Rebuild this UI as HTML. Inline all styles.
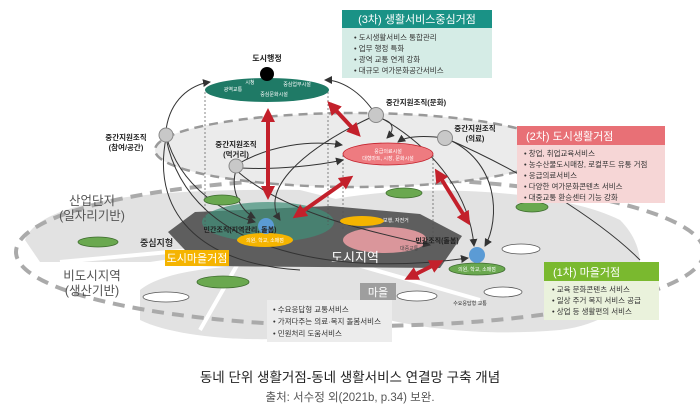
<!DOCTYPE html>
<html><head><meta charset="utf-8"><style>
body{margin:0;background:#fff;}
svg{display:block;font-family:"Liberation Sans","Noto Sans CJK KR",sans-serif;}
</style></head><body>
<svg width="700" height="416" viewBox="0 0 700 416" xmlns="http://www.w3.org/2000/svg">
<defs>
<marker id="ah" markerWidth="8" markerHeight="8" refX="7" refY="4" orient="auto" markerUnits="userSpaceOnUse"><path d="M0,0 L8,4 L0,8 z" fill="#333"/></marker>
<marker id="rh" markerWidth="14" markerHeight="14" refX="10" refY="7" orient="auto-start-reverse" markerUnits="userSpaceOnUse"><path d="M0,0 L14,7 L0,14 z" fill="#c3202b"/></marker>
</defs>
<path d="M25,240 C40,200 150,188 300,190 L340,200 L300,240 L150,262 L40,262 Z" fill="#e2e2e2"/>
<path d="M140,290 C170,265 260,262 340,268 L340,332 C280,345 180,340 140,320 Z" fill="#e2e2e2"/>
<path d="M330,200 C420,182 560,190 620,220 C660,260 640,320 560,330 C470,338 380,325 330,300 Z" fill="#e2e2e2"/>
<ellipse cx="360" cy="252" rx="344" ry="74" fill="none" stroke="#aaa" stroke-width="4" stroke-dasharray="12,8"/>
<path d="M60,262 L300,240 M200,330 L260,225 M340,260 L480,300" stroke="#fff" stroke-width="4" fill="none"/>
<path d="M168,232 L195,212 L330,206 L420,214 L462,236 L440,268 L200,266 Z" fill="#5e5e5e"/>
<ellipse cx="268" cy="222" rx="66" ry="20" fill="#3f8f78" opacity="0.7"/>
<ellipse cx="385" cy="240" rx="42" ry="13" fill="#f0a0a6" opacity="0.85"/>
<text x="355" y="262" font-size="13" fill="#fff" text-anchor="middle">도시지역</text>
<text x="383" y="222" font-size="5" fill="#fff">보행, 자전거</text>
<text x="400" y="250" font-size="5" fill="#444">대중교통</text>
<ellipse cx="355" cy="150" rx="200" ry="37" fill="#ebebeb" stroke="#999" stroke-width="2.5" stroke-dasharray="9,6"/>
<path d="M205,92 V225 M328,92 V225 M343,155 V230 M433,155 V240" stroke="#555" stroke-width="0.7" stroke-dasharray="2,2"/>
<g stroke="#333" stroke-width="1" fill="none">
<path d="M166,130 C170,100 190,85 210,82" marker-end="url(#ah)"/>
<path d="M376,115 C360,90 340,80 325,80" marker-end="url(#ah)"/>
<path d="M236,165 C270,145 310,140 342,145" marker-end="url(#ah)"/>
<path d="M240,168 C280,170 320,165 343,160" marker-end="url(#ah)"/>
<path d="M376,118 C395,120 395,130 387,138" marker-end="url(#ah)"/>
<path d="M445,138 C420,135 405,137 398,142" marker-end="url(#ah)"/>
<path d="M166,135 C180,190 230,215 255,222" marker-end="url(#ah)"/>
<path d="M166,138 C190,260 350,275 468,258" marker-end="url(#ah)"/>
<path d="M166,138 C150,220 210,265 300,270"/>
<path d="M376,115 C300,150 260,190 280,220" marker-end="url(#ah)"/>
<path d="M376,115 C440,150 470,200 474,246" marker-end="url(#ah)"/>
<path d="M445,138 C500,160 500,220 485,246" marker-end="url(#ah)"/>
<path d="M236,170 C230,190 240,210 255,218" marker-end="url(#ah)"/>
<path d="M236,170 C280,210 360,230 430,245" marker-end="url(#ah)"/>
<path d="M445,138 C520,170 600,220 640,260"/>
</g>
<g fill="#6aa84f" stroke="#3d6b2e" stroke-width="0.8">
<ellipse cx="98" cy="242" rx="20" ry="5"/><ellipse cx="222" cy="200" rx="18" ry="5"/>
<ellipse cx="404" cy="193" rx="18" ry="5"/><ellipse cx="532" cy="207" rx="16" ry="5"/>
<ellipse cx="223" cy="282" rx="26" ry="6"/>
</g>
<g fill="#fff" stroke="#555" stroke-width="0.8">
<ellipse cx="166" cy="297" rx="23" ry="5"/><ellipse cx="521" cy="249" rx="19" ry="5"/>
<ellipse cx="503" cy="292" rx="19" ry="5"/><ellipse cx="417" cy="296" rx="20" ry="5"/>
</g>
<text x="140" y="246" font-size="9" font-weight="bold" fill="#333">중심지형</text>
<ellipse cx="265" cy="240" rx="28" ry="7" fill="#f5b400"/>
<text x="265" y="242" font-size="5" fill="#fff" text-anchor="middle">의원, 학교, 소매점</text>
<ellipse cx="362" cy="221" rx="22" ry="5" fill="#f5b400"/>
<circle cx="266" cy="226" r="8" fill="#5b9bd5"/>
<text x="240" y="232" font-size="7" font-weight="bold" fill="#222" text-anchor="middle">민간조직(지역관리, 돌봄)</text>
<ellipse cx="477" cy="269" rx="28" ry="6" fill="#6aa84f" stroke="#3d6b2e" stroke-width="0.8"/>
<circle cx="477" cy="255" r="8" fill="#5b9bd5"/>
<text x="477" y="271" font-size="5" fill="#fff" text-anchor="middle">의원, 학교, 소매점</text>
<text x="437" y="243" font-size="7" font-weight="bold" fill="#222" text-anchor="middle">민간조직(돌봄)</text>
<text x="470" y="305" font-size="5" fill="#333" text-anchor="middle">수요응답형 교통</text>
<ellipse cx="267" cy="90" rx="62" ry="12" fill="#1f7a66"/>
<circle cx="267" cy="74" r="7" fill="#000"/>
<text x="267" y="61" font-size="8" font-weight="bold" fill="#222" text-anchor="middle">도시행정</text>
<text x="250" y="84" font-size="5" fill="#fff" text-anchor="middle">시청</text>
<text x="233" y="91" font-size="5" fill="#fff" text-anchor="middle">광역교통</text>
<text x="297" y="86" font-size="5" fill="#fff" text-anchor="middle">중심업무시설</text>
<text x="274" y="96" font-size="5" fill="#fff" text-anchor="middle">중심문화시설</text>
<ellipse cx="388" cy="154" rx="45" ry="11" fill="#ee7b80" stroke="#c3202b" stroke-width="0.8"/>
<text x="388" y="153" font-size="5" fill="#fff" text-anchor="middle">응급의료시설</text>
<text x="388" y="160" font-size="5" fill="#fff" text-anchor="middle">대형마트, 시장, 문화시설</text>
<g fill="#c8c8c8" stroke="#888"><circle cx="166" cy="135" r="7"/><circle cx="376" cy="115" r="7.5"/><circle cx="445" cy="138" r="7.5"/><circle cx="236" cy="166" r="7"/></g>
<g font-size="7.5" font-weight="bold" fill="#222" text-anchor="middle">
<text x="126" y="140">중간지원조직</text><text x="126" y="150">(참여/공간)</text>
<text x="236" y="147">중간지원조직</text><text x="236" y="157">(먹거리)</text>
<text x="416" y="105">중간지원조직(문화)</text>
<text x="475" y="131">중간지원조직</text><text x="475" y="141">(의료)</text>
</g>
<g stroke="#c3202b" stroke-width="4" fill="none">
<line x1="268" y1="196" x2="268" y2="112" marker-start="url(#rh)" marker-end="url(#rh)"/>
<line x1="330" y1="104" x2="358" y2="134" marker-start="url(#rh)" marker-end="url(#rh)"/>
<line x1="296" y1="216" x2="350" y2="178" marker-start="url(#rh)" marker-end="url(#rh)"/>
<line x1="437" y1="172" x2="468" y2="222" marker-start="url(#rh)" marker-end="url(#rh)"/>
<line x1="408" y1="278" x2="440" y2="262" marker-start="url(#rh)" marker-end="url(#rh)"/>
</g>
<g font-size="12.5" fill="#555" text-anchor="middle">
<text x="92" y="205">산업단지</text><text x="92" y="220">(일자리기반)</text>
<text x="92" y="280">비도시지역</text><text x="92" y="295">(생산기반)</text>
</g>
<rect x="165" y="250" width="64" height="16" fill="#f5b400"/>
<text x="197" y="262" font-size="11" fill="#fff" text-anchor="middle">도시마을거점</text>
<rect x="360" y="283" width="36" height="17" fill="#9e9e9e"/>
<text x="378" y="296" font-size="11" fill="#fff" text-anchor="middle">마을</text>
<rect x="267" y="300" width="125" height="42" fill="#ececec"/>
<g font-size="7.5" fill="#333"><text x="273" y="312">• 수요응답형 교통서비스</text><text x="273" y="324">• 가져다주는 의료·복지 돌봄서비스</text><text x="273" y="336">• 민원처리 도움서비스</text></g>
<rect x="342" y="10" width="150" height="68" fill="#d5ece6"/>
<rect x="342" y="10" width="150" height="18" fill="#1a9286"/>
<text x="417" y="23" font-size="11" fill="#fff" text-anchor="middle">(3차) 생활서비스중심거점</text>
<g font-size="7.5" fill="#333"><text x="354" y="40">• 도시생활서비스 통합관리</text><text x="354" y="51">• 업무 행정 특화</text><text x="354" y="62">• 광역 교통 연계 강화</text><text x="354" y="73">• 대규모 여가문화공간서비스</text></g>
<rect x="517" y="126" width="148" height="77" fill="#f6d6d6"/>
<rect x="517" y="126" width="148" height="19" fill="#e87076"/>
<text x="526" y="140" font-size="11" fill="#fff">(2차) 도시생활거점</text>
<g font-size="7.5" fill="#333"><text x="524" y="156">• 창업, 취업교육서비스</text><text x="524" y="167">• 농수산물도시매장, 로컬푸드 유통 거점</text><text x="524" y="178">• 응급의료서비스</text><text x="524" y="189">• 다양한 여가문화콘텐츠 서비스</text><text x="524" y="200">• 대중교통 환승센터 기능 강화</text></g>
<rect x="544" y="262" width="115" height="58" fill="#eaf2dc"/>
<rect x="544" y="262" width="115" height="19" fill="#7ab92f"/>
<text x="553" y="276" font-size="11" fill="#fff">(1차) 마을거점</text>
<g font-size="7.5" fill="#333"><text x="552" y="292">• 교육 문화콘텐츠 서비스</text><text x="552" y="303">• 일상 주거 복지 서비스 공급</text><text x="552" y="314">• 상업 등 생활편의 서비스</text></g>
<text x="350" y="382" font-size="13.5" fill="#222" text-anchor="middle">동네 단위 생활거점-동네 생활서비스 연결망 구축 개념</text>
<text x="350" y="401" font-size="11.5" fill="#555" text-anchor="middle">출처: 서수정 외(2021b, p.34) 보완.</text>
</svg>
</body></html>
